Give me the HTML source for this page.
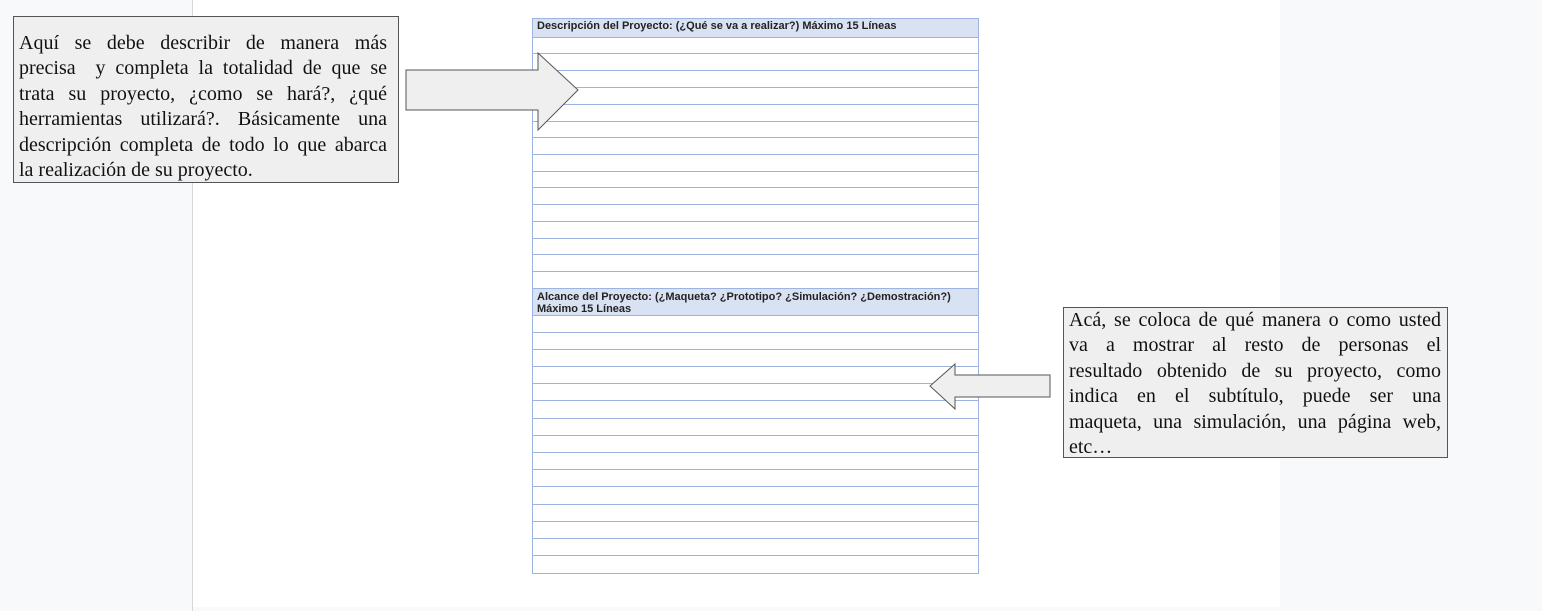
<!DOCTYPE html>
<html><head><meta charset="utf-8"><style>
body{margin:0;width:1542px;height:611px;position:relative;background:#f8f9fa;overflow:hidden;font-family:"Liberation Serif",serif}
.page{position:absolute;left:193px;top:0;width:1087px;height:607px;background:#fff}
.vl{position:absolute;left:192px;top:0;width:1px;height:611px;background:#d6d8db}
.box{position:absolute;background:#efefef;border:1px solid #555;box-sizing:border-box}
.ln{font-size:20px;line-height:25.4px;height:25.4px;text-align:justify;text-align-last:justify;white-space:nowrap;color:#111}
.ln.l{text-align-last:left}
.tbl{position:absolute;left:532px;top:18px;width:447px;height:556px;border:1px solid #9db3e0;box-sizing:border-box}
.hd{position:absolute;left:0;width:445px;background:#d9e2f3;font-family:"Liberation Sans",sans-serif;font-weight:bold;font-size:11px;line-height:12px;padding:1px 4px;box-sizing:border-box;color:#222}
.hr{position:absolute;left:0;width:445px;height:1px;background:#9db3e0}
</style></head><body>
<div class="page"></div>
<div class="vl"></div>
<div class="tbl">
<div class="hd" style="top:0;height:19px">Descripción del Proyecto: (¿Qué se va a realizar?) Máximo 15 Líneas</div>
<div class="hr" style="top:18px"></div>
<div class="hd" style="top:270px;height:27px;padding-top:2px">Alcance del Proyecto: (¿Maqueta? ¿Prototipo? ¿Simulación? ¿Demostración?)<br>Máximo 15 Líneas</div>
<div class="hr" style="top:296px"></div>
<div class="hr" style="top:34px"></div><div class="hr" style="top:51px"></div><div class="hr" style="top:68px"></div><div class="hr" style="top:85px"></div><div class="hr" style="top:102px"></div><div class="hr" style="top:118px"></div><div class="hr" style="top:135px"></div><div class="hr" style="top:152px"></div><div class="hr" style="top:168px"></div><div class="hr" style="top:185px"></div><div class="hr" style="top:202px"></div><div class="hr" style="top:219px"></div><div class="hr" style="top:235px"></div><div class="hr" style="top:252px"></div><div class="hr" style="top:269px"></div>
<div class="hr" style="top:313px"></div><div class="hr" style="top:330px"></div><div class="hr" style="top:347px"></div><div class="hr" style="top:364px"></div><div class="hr" style="top:381px"></div><div class="hr" style="top:399px"></div><div class="hr" style="top:416px"></div><div class="hr" style="top:433px"></div><div class="hr" style="top:450px"></div><div class="hr" style="top:467px"></div><div class="hr" style="top:485px"></div><div class="hr" style="top:502px"></div><div class="hr" style="top:519px"></div><div class="hr" style="top:536px"></div>
</div>
<svg style="position:absolute;left:0;top:0" width="1542" height="611">
<polygon points="406,70 538,70 538,53 578,90 538,130 538,110 406,110" fill="#efefef" stroke="#555" stroke-width="1"/>
<polygon points="1050,375 955,375 955,364 930,386 955,409 955,397 1050,397" fill="#efefef" stroke="#555" stroke-width="1"/>
</svg>
<div class="box" style="left:13px;top:16px;width:386px;height:167px;padding:14px 11px 0 5px">
<div class="ln">Aquí se debe describir de manera más</div>
<div class="ln">precisa &nbsp;y completa la totalidad de que se</div>
<div class="ln">trata su proyecto, ¿como se hará?, ¿qué</div>
<div class="ln">herramientas utilizará?. Básicamente una</div>
<div class="ln">descripción completa de todo lo que abarca</div>
<div class="ln l">la realización de su proyecto.</div>
</div>
<div class="box" style="left:1063px;top:307px;width:385px;height:151px;padding:0 6px 0 5px">
<div class="ln">Acá, se coloca de qué manera o como usted</div>
<div class="ln">va a mostrar al resto de personas el</div>
<div class="ln">resultado obtenido de su proyecto, como</div>
<div class="ln">indica en el subtítulo, puede ser una</div>
<div class="ln">maqueta, una simulación, una página web,</div>
<div class="ln l">etc…</div>
</div>
</body></html>
